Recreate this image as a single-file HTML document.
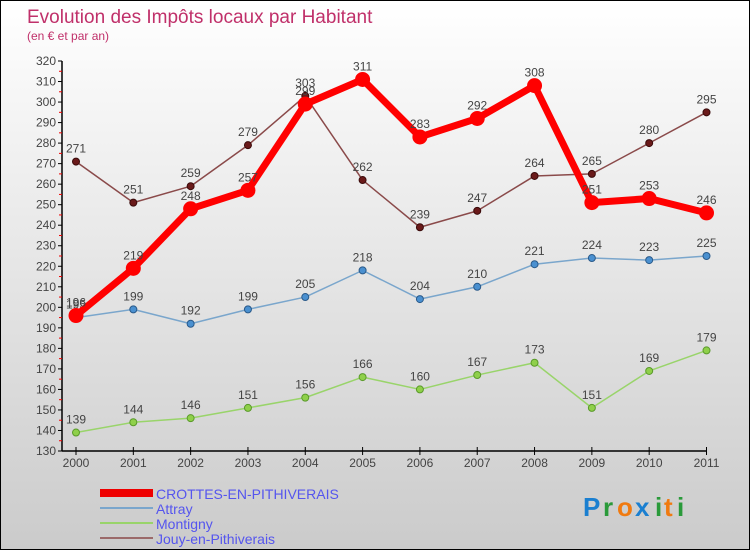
<!DOCTYPE html>
<html><head><meta charset="utf-8"><style>
body{margin:0}
#c{width:748px;height:548px;border:1px solid #000;position:relative;background:linear-gradient(#fff,#cbcbcb);font-family:"Liberation Sans",sans-serif;overflow:hidden}
</style></head><body>
<div id="c">
<svg id="s" width="748" height="548" style="position:absolute;left:0;top:0" font-family="Liberation Sans, sans-serif">
<text x="26" y="22" font-size="19" fill="#c0306a">Evolution des Impôts locaux par Habitant</text>
<text x="26" y="39" font-size="12" fill="#c0306a">(en € et par an)</text>
<g id="axes"></g><g id="series"></g>
<g>
<rect x="99" y="488" width="53" height="8" fill="#e00"/>
<line x1="99" x2="152" y1="507" y2="507" stroke="#7aa6cc" stroke-width="2"/>
<line x1="99" x2="152" y1="522" y2="522" stroke="#99d46a" stroke-width="2"/>
<line x1="99" x2="152" y1="537" y2="537" stroke="#9b6a6a" stroke-width="2"/>
<g font-size="14" fill="#5555ee">
<text x="155" y="498">CROTTES-EN-PITHIVERAIS</text>
<text x="155" y="513">Attray</text>
<text x="155" y="528">Montigny</text>
<text x="155" y="543">Jouy-en-Pithiverais</text>
</g></g>
<g font-size="26" font-weight="bold">
<text x="582" y="515" fill="#1a7fd0">P</text><text x="602" y="515" fill="#2a9a3a">r</text><text x="616" y="515" fill="#f07a10">o</text><text x="634" y="515" fill="#1a7fd0">x</text><text x="654" y="515" fill="#2a9a3a">i</text><text x="663" y="515" fill="#f07a10">t</text><text x="676" y="515" fill="#2a9a3a">i</text>
</g>
</svg>
</div>
<script>
const years=["2000","2001","2002","2003","2004","2005","2006","2007","2008","2009","2010","2011"];
const crottes=[196,219,248,257,299,311,283,292,308,251,253,246];
const attray=[195,199,192,199,205,218,204,210,221,224,223,225];
const montigny=[139,144,146,151,156,166,160,167,173,151,169,179];
const jouy=[271,251,259,279,303,262,239,247,264,265,280,295];
const yTicks=[130,140,150,160,170,180,190,200,210,220,230,240,250,260,270,280,290,300,310,320];
const NS="http://www.w3.org/2000/svg";
const X=i=>75+i*(705.5-75)/11;
const Y=v=>450-(v-130)*(390/190);
function mk(t,a,p){const e=document.createElementNS(NS,t);for(const k in a)e.setAttribute(k,a[k]);p.appendChild(e);return e;}
const ax=document.getElementById('axes');
let e=mk('line',{x1:61,x2:61,y1:Y(320),y2:450,stroke:'#000','stroke-width':1.5},ax);


e=mk('line',{x1:61,x2:706,y1:450,y2:450,stroke:'#000','stroke-width':1.5},ax);


yTicks.forEach(v=>{
 mk('line',{x1:57,x2:61,y1:Y(v),y2:Y(v),stroke:'#000'},ax);
 if(v<320)mk('line',{x1:58,x2:61,y1:Y(v+5),y2:Y(v+5),stroke:'#e00'},ax);
 const t=mk('text',{x:55,y:Y(v)+4,'text-anchor':'end','font-size':12,fill:'#444'},ax);t.textContent=v;
 
 
});
years.forEach((yr,i)=>{
 mk('line',{x1:X(i),x2:X(i),y1:446,y2:454,stroke:'#000'},ax);
 const t=mk('text',{x:X(i),y:466,'text-anchor':'middle','font-size':12,fill:'#444'},ax);t.textContent=yr;
 
 
});
const sg=document.getElementById('series');
function series(name,data,col,w,r,dot,fill){
 const g=mk('g',{},sg);
 
 
 mk('polyline',{points:data.map((v,i)=>X(i)+','+Y(v)).join(' '),fill:'none',stroke:col,'stroke-width':w,'stroke-linejoin':'round'},g);
 data.forEach((v,i)=>{
  const c=mk('circle',{cx:X(i),cy:Y(v),r:r,fill:fill,stroke:dot,'stroke-width':1},g);
  
  
  const t=mk('text',{x:X(i),y:Y(v)-9,'text-anchor':'middle','font-size':12,fill:'#444'},g);t.textContent=v;
  
  
 });
}
series('montigny',montigny,'#99d46a',1.5,3.5,'#5a9a2a','#8fd04a');
series('attray',attray,'#7aa6cc',1.5,3.5,'#2a5a8a','#4a90d0');
series('jouy',jouy,'#8a4a4a',1.5,3.5,'#3a0a0a','#6a1a1a');
series('crottes',crottes,'#f00',7,7,'#f00','#f00');
</script>
</body></html>
